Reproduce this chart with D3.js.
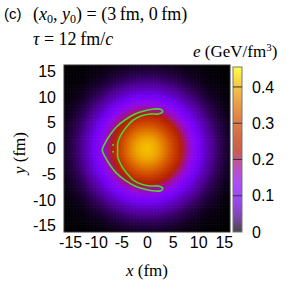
<!DOCTYPE html>
<html>
<head>
<meta charset="utf-8">
<script src="https://cdn.jsdelivr.net/npm/d3@7"></script>
<style>
  body { margin: 0; background: #fff; }
  svg { display: block; }
  .tick text { font-family: "Liberation Sans", Arial, sans-serif; font-size: 16px; fill: #000; }
  .serif { font-family: "Liberation Serif", "DejaVu Serif", serif; }
</style>
</head>
<body>
<svg id="chart" width="294" height="294"></svg>
<script>
// tick labels
var xTicks  = [-15, -10, -5, 0, 5, 10, 15];
var yTicks  = [-15, -10, -5, 0, 5, 10, 15];
var cbTicks = [0, 0.1, 0.2, 0.3, 0.4];

// energy density e (GeV/fm^3) against distance from the centre (fm)
var radii    = [0, 1, 2, 3, 4, 5, 6, 7, 8, 9, 10, 11, 12, 13, 14, 15, 16, 17, 18, 19, 20, 21, 22, 23];
var eProfile = [0.415, 0.407, 0.392, 0.368, 0.336, 0.298, 0.257, 0.213, 0.172, 0.135, 0.104,
                0.078, 0.057, 0.041, 0.029, 0.020, 0.013, 0.008, 0.005, 0.003, 0.002, 0.001, 0.0005, 0];

// green contour (fm), crescent, traced clockwise from the tip
var contourX = [-8.73, -8.20, -7.23, -5.92, -4.30, -2.34, -0.39, 1.56, 2.68, 3.07,
                2.21, 0.59, -1.04, -2.68, -3.96, -5.08, -5.72, -5.72,
                -5.72, -5.08, -3.96, -2.68, -1.04, 0.59, 2.21, 3.07,
                2.68, 1.56, -0.39, -2.34, -4.30, -5.92, -7.23, -8.20];
var contourY = [-0.29, 1.01, 2.62, 4.23, 5.53, 6.70, 7.34, 7.67, 7.61, 7.15,
                6.70, 6.70, 6.37, 5.53, 4.23, 2.62, 1.01, -0.29,
                -1.59, -3.20, -4.82, -6.12, -6.95, -7.28, -7.28, -7.73,
                -8.19, -8.25, -7.92, -7.28, -6.12, -4.82, -3.20, -1.59];
// two tiny contour islands inside the tip
var dotX = [-6.64, -6.64];
var dotY = [0.68, -0.62];

// palette (black - blue - violet - red - yellow)
var paletteStops  = [0, 0.1, 0.2, 0.3, 0.4, 0.5, 0.6, 0.7, 0.8, 0.9, 1];
var paletteColors = ["#000000", "#500096", "#7202f2", "#8c07f2", "#a11096", "#b42000",
                     "#c53700", "#d55700", "#e48300", "#f2ba00", "#ffff00"];

var eMax = 0.455;
var svg = d3.select("#chart");

var x = d3.scaleLinear().domain([-16.2, 16.2]).range([64, 230]);
var y = d3.scaleLinear().domain([-16.2, 16.2]).range([232, 65]);
var cb = d3.scaleLinear().domain([0, eMax]).range([232, 67]);
var profile = d3.scaleLinear().domain(radii).range(eProfile).clamp(true);
var color = d3.scaleLinear().domain(paletteStops.map(function(t){ return t * eMax; }))
	.range(paletteColors).clamp(true);
var hyphen = function(d){ return String(d); };

// heat map
var step = 0.3;
var cells = [];
d3.range(-16.2, 16.2, step).forEach(function(cx){
	d3.range(-16.2, 16.2, step).forEach(function(cy){
		var mx = cx + step/2, my = cy + step/2;
		cells.push({ x: cx, y: cy, e: profile(Math.sqrt(mx*mx + my*my)) });
	});
});

var clip = svg.append("defs").append("clipPath").attr("id", "plotClip");
clip.append("rect").attr("x", 64).attr("y", 65).attr("width", 166).attr("height", 167);

var gMap = svg.append("g").attr("clip-path", "url(#plotClip)");
gMap.selectAll("rect").data(cells).enter().append("rect")
	.attr("x", function(d){ return x(d.x); })
	.attr("y", function(d){ return y(d.y + step); })
	.attr("width", x(step) - x(0) + 0.6)
	.attr("height", y(0) - y(step) + 0.6)
	.attr("fill", function(d){ return color(d.e); });

// contour
var pts = contourX.map(function(v, i){ return [v, contourY[i]]; });
var line = d3.line()
	.x(function(d){ return x(d[0]); })
	.y(function(d){ return y(d[1]); })
	.curve(d3.curveCatmullRomClosed.alpha(0.5));
gMap.append("path").attr("d", line(pts))
	.attr("fill", "none").attr("stroke", "#4fd23c").attr("stroke-width", 1.6);
gMap.selectAll("circle.dot").data(dotX).enter().append("circle")
	.attr("class", "dot")
	.attr("cx", function(d){ return x(d); })
	.attr("cy", function(d, i){ return y(dotY[i]); })
	.attr("r", 1).attr("fill", "#4fd23c");

// frame
svg.append("rect").attr("x", 64).attr("y", 65).attr("width", 166).attr("height", 167)
	.attr("fill", "none").attr("stroke", "#333").attr("stroke-width", 1);

// axes
var xAxis = svg.append("g").attr("transform", "translate(0,232)")
	.call(d3.axisBottom(x).tickValues(xTicks).tickSize(0).tickPadding(5).tickFormat(hyphen));
xAxis.select(".domain").remove();
var yAxis = svg.append("g").attr("transform", "translate(64,0)")
	.call(d3.axisLeft(y).tickValues(yTicks).tickSize(0).tickPadding(8).tickFormat(hyphen));
yAxis.select(".domain").remove();

// colour bar
var grad = svg.select("defs").append("linearGradient").attr("id", "cbGrad")
	.attr("x1", 0).attr("y1", 1).attr("x2", 0).attr("y2", 0);
grad.selectAll("stop").data(paletteStops).enter().append("stop")
	.attr("offset", function(d){ return d; })
	.attr("stop-color", function(d, i){ return paletteColors[i]; });
svg.append("rect").attr("x", 233).attr("y", 67).attr("width", 9).attr("height", 165)
	.attr("fill", "url(#cbGrad)").attr("fill-opacity", 0.72)
	.attr("stroke", "#777").attr("stroke-width", 1);
svg.selectAll("line.cbtick").data(cbTicks.slice(1)).enter().append("line")
	.attr("class", "cbtick")
	.attr("x1", 233).attr("x2", 242)
	.attr("y1", function(d){ return cb(d); }).attr("y2", function(d){ return cb(d); })
	.attr("stroke", "#333").attr("stroke-width", 1);
var cAxis = svg.append("g").attr("transform", "translate(242,0)")
	.call(d3.axisRight(cb).tickValues(cbTicks).tickSize(0).tickPadding(10)
		.tickFormat(function(d){ return d === 0 ? "0" : d3.format(".1f")(d); }));
cAxis.select(".domain").remove();

// texts
svg.append("text").attr("x", 4).attr("y", 19)
	.style("font-family", "Liberation Sans, Arial, sans-serif").style("font-size", "15px").text("(c)");

var t1 = svg.append("text").attr("class", "serif").attr("x", 33).attr("y", 20).style("font-size", "18px");
t1.append("tspan").text("(");
t1.append("tspan").style("font-style", "italic").text("x");
t1.append("tspan").attr("dy", 3).style("font-size", "12px").text("0");
t1.append("tspan").attr("dy", -3).text(", ");
t1.append("tspan").style("font-style", "italic").text("y");
t1.append("tspan").attr("dy", 3).style("font-size", "12px").text("0");
t1.append("tspan").attr("dy", -3).text(") = (3\u2009fm, 0\u2009fm)");

var t2 = svg.append("text").attr("class", "serif").attr("x", 33).attr("y", 45).style("font-size", "18px");
t2.append("tspan").style("font-style", "italic").text("\u03c4");
t2.append("tspan").text(" = 12\u2009fm/");
t2.append("tspan").style("font-style", "italic").text("c");

var t3 = svg.append("text").attr("class", "serif").attr("x", 193).attr("y", 57).style("font-size", "17px");
t3.append("tspan").style("font-style", "italic").text("e");
t3.append("tspan").text(" (GeV/fm");
t3.append("tspan").attr("dy", -6).style("font-size", "11px").text("3");
t3.append("tspan").attr("dy", 6).text(")");

var xl = svg.append("text").attr("class", "serif").attr("x", 147).attr("y", 276)
	.attr("text-anchor", "middle").style("font-size", "17px");
xl.append("tspan").style("font-style", "italic").text("x");
xl.append("tspan").text(" (fm)");

var yl = svg.append("text").attr("class", "serif")
	.attr("transform", "translate(25,153) rotate(-90)")
	.attr("text-anchor", "middle").style("font-size", "17px");
yl.append("tspan").style("font-style", "italic").text("y");
yl.append("tspan").text(" (fm)");
</script>
</body>
</html>
